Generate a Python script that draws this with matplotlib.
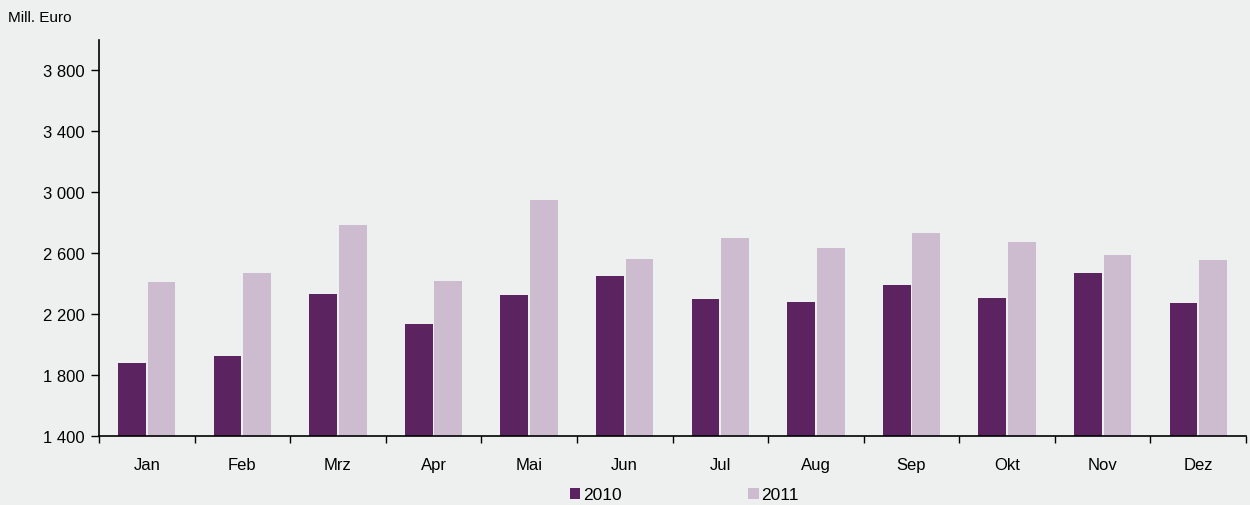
import matplotlib
matplotlib.use("Agg")
import matplotlib.pyplot as plt
from matplotlib.patches import Patch
import numpy as np

months = ["Jan", "Feb", "Mrz", "Apr", "Mai", "Jun", "Jul", "Aug", "Sep", "Okt", "Nov", "Dez"]
v2010 = [1877, 1923, 2330, 2133, 2323, 2448, 2297, 2277, 2389, 2303, 2468, 2271]
v2011 = [2409, 2468, 2783, 2415, 2947, 2560, 2697, 2632, 2730, 2671, 2586, 2553]
yticks = [1400, 1800, 2200, 2600, 3000, 3400, 3800]
ytick_labels = ["1 400", "1 800", "2 200", "2 600", "3 000", "3 400", "3 800"]
series_names = ["2010", "2011"]

plt.rcParams['font.family'] = ['Liberation Sans', 'DejaVu Sans']
bg = "#EEF0EF"
c1 = "#5B2360"
c2 = "#CDBBD0"

W, H = 1250, 506
fig = plt.figure(figsize=(W / 100, H / 100), dpi=100, facecolor=bg)
ax = fig.add_axes([99 / W, 1 - 437 / H, (1246 - 99) / W, (437 - 41) / H])
ax.set_facecolor(bg)

x = np.arange(len(months))
bw = 0.29
ax.bar(x - 0.155, v2010, width=bw, color=c1, linewidth=0, zorder=2)
ax.bar(x + 0.155, v2011, width=bw, color=c2, linewidth=0, zorder=2)

ax.set_xlim(-0.5, len(months) - 0.5)
ax.set_ylim(1400, 4000)
ax.set_yticks(yticks)
ax.set_yticklabels(ytick_labels, fontsize=12)
ax.set_xticks(x)
ax.set_xticklabels(months, fontsize=12)
ax.tick_params(axis='x', length=0, pad=15)
ax.set_xticks(np.arange(len(months) + 1) - 0.5, minor=True)
ax.tick_params(axis='x', which='minor', length=5, width=1, direction='out')
ax.tick_params(axis='y', length=6, width=1, direction='out', pad=4)

for s in ["top", "right"]:
    ax.spines[s].set_visible(False)
for s in ["left", "bottom"]:
    ax.spines[s].set_linewidth(1.2)
    ax.spines[s].set_zorder(3)

fig.text(8 / W, 1 - 18 / H, "Mill. Euro", fontsize=11, va="center", ha="left")

handles = [Patch(facecolor=c1, edgecolor="none"), Patch(facecolor=c2, edgecolor="none")]
fig.legend(handles, series_names, loc="center left", bbox_to_anchor=(570 / W, 1 - 496 / H),
           ncol=2, frameon=False, fontsize=12.5, handlelength=0.6, handleheight=0.6,
           handletextpad=0.15, columnspacing=7.3, borderpad=0, borderaxespad=0)

fig.savefig("out.png", dpi=100, facecolor=bg)
